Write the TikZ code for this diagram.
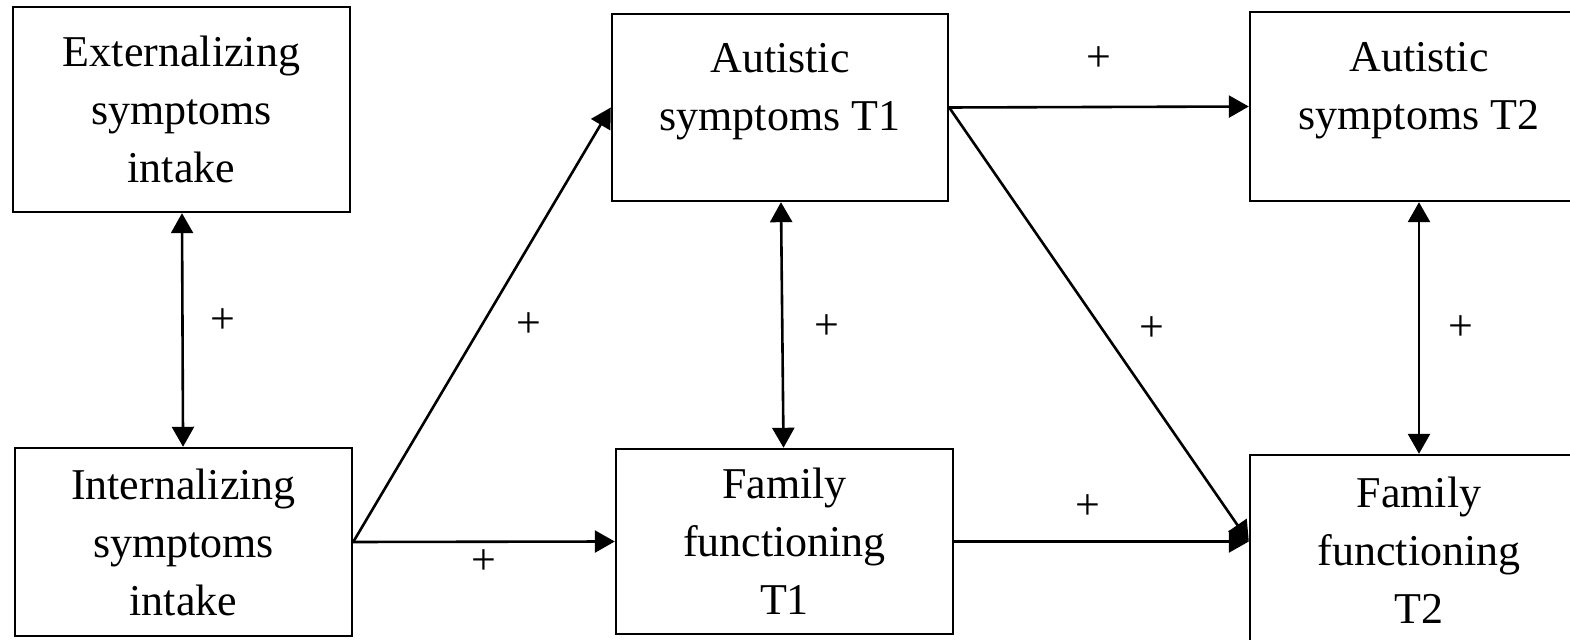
\documentclass[tikz,border=0pt]{standalone}
\usepackage{fontspec}
\setmainfont{Liberation Serif}
\usetikzlibrary{arrows.meta}
\tikzstyle{factor}=[draw, line width=1.2pt, inner sep=0pt, align=center, font=\fontsize{22}{29}\selectfont]
\tikzstyle{sign}=[inner sep=0pt, font=\fontsize{22}{29}\selectfont]
\newcommand{\factor}{\node[factor]}

\begin{document}
\begin{tikzpicture}[x=.5pt, y=-.5pt, every edge/.style={ draw, line width=1.3pt, -{Triangle[length=10pt,width=11pt]} } ]
\useasboundingbox (0,0) rectangle (1570,640);
\factor (ext) at (181.5,109.5) [minimum width=168.5pt, minimum height=102.5pt] {Externalizing\\symptoms\\intake};
\factor (int) at (183.5,542) [minimum width=168.5pt, minimum height=94pt] {Internalizing\\symptoms\\intake};
\factor (aut1) at (780,107.5) [minimum width=168pt, minimum height=93.5pt] {Autistic\\symptoms T1\\[-8pt]\mbox{}};
\factor (fam1) at (784.5,541.5) [minimum width=168.5pt, minimum height=92.5pt] {Family\\functioning\\T1};
\factor (aut2) at (1419,106.5) [minimum width=169pt, minimum height=94.5pt] {Autistic\\symptoms T2\\[-8pt]\mbox{}};
\factor (fam2) at (1419,550) [minimum width=169pt, minimum height=95pt] {Family\\functioning\\T2};
\path
(ext) edge[{Triangle[length=10pt,width=11pt]}-{Triangle[length=10pt,width=11pt]}] node[sign, pos=.46, xshift=20pt] {+} (int)
(int.east) edge node[sign, pos=.5, xshift=23.5pt] {+} (aut1.west)
(int.east) edge node[sign, pos=.5, yshift=-10pt] {+} (fam1.west)
(aut1) edge[{Triangle[length=10pt,width=11pt]}-{Triangle[length=10pt,width=11pt]}] node[sign, pos=.51, xshift=22.5pt] {+} (fam1)
(aut1.east) edge node[sign, pos=.5, yshift=24pt] {+} (aut2.west)
(aut1.east) edge node[sign, pos=.51, xshift=25pt] {+} (fam1.east -| fam2.west)
(fam1.east) edge node[sign, pos=.455, yshift=17pt] {+} (fam1.east -| fam2.west)
(aut2) edge[{Triangle[length=10pt,width=11pt]}-{Triangle[length=10pt,width=11pt]}] node[sign, pos=.5, xshift=21pt] {+} (fam2)
;
\end{tikzpicture}
\end{document}
